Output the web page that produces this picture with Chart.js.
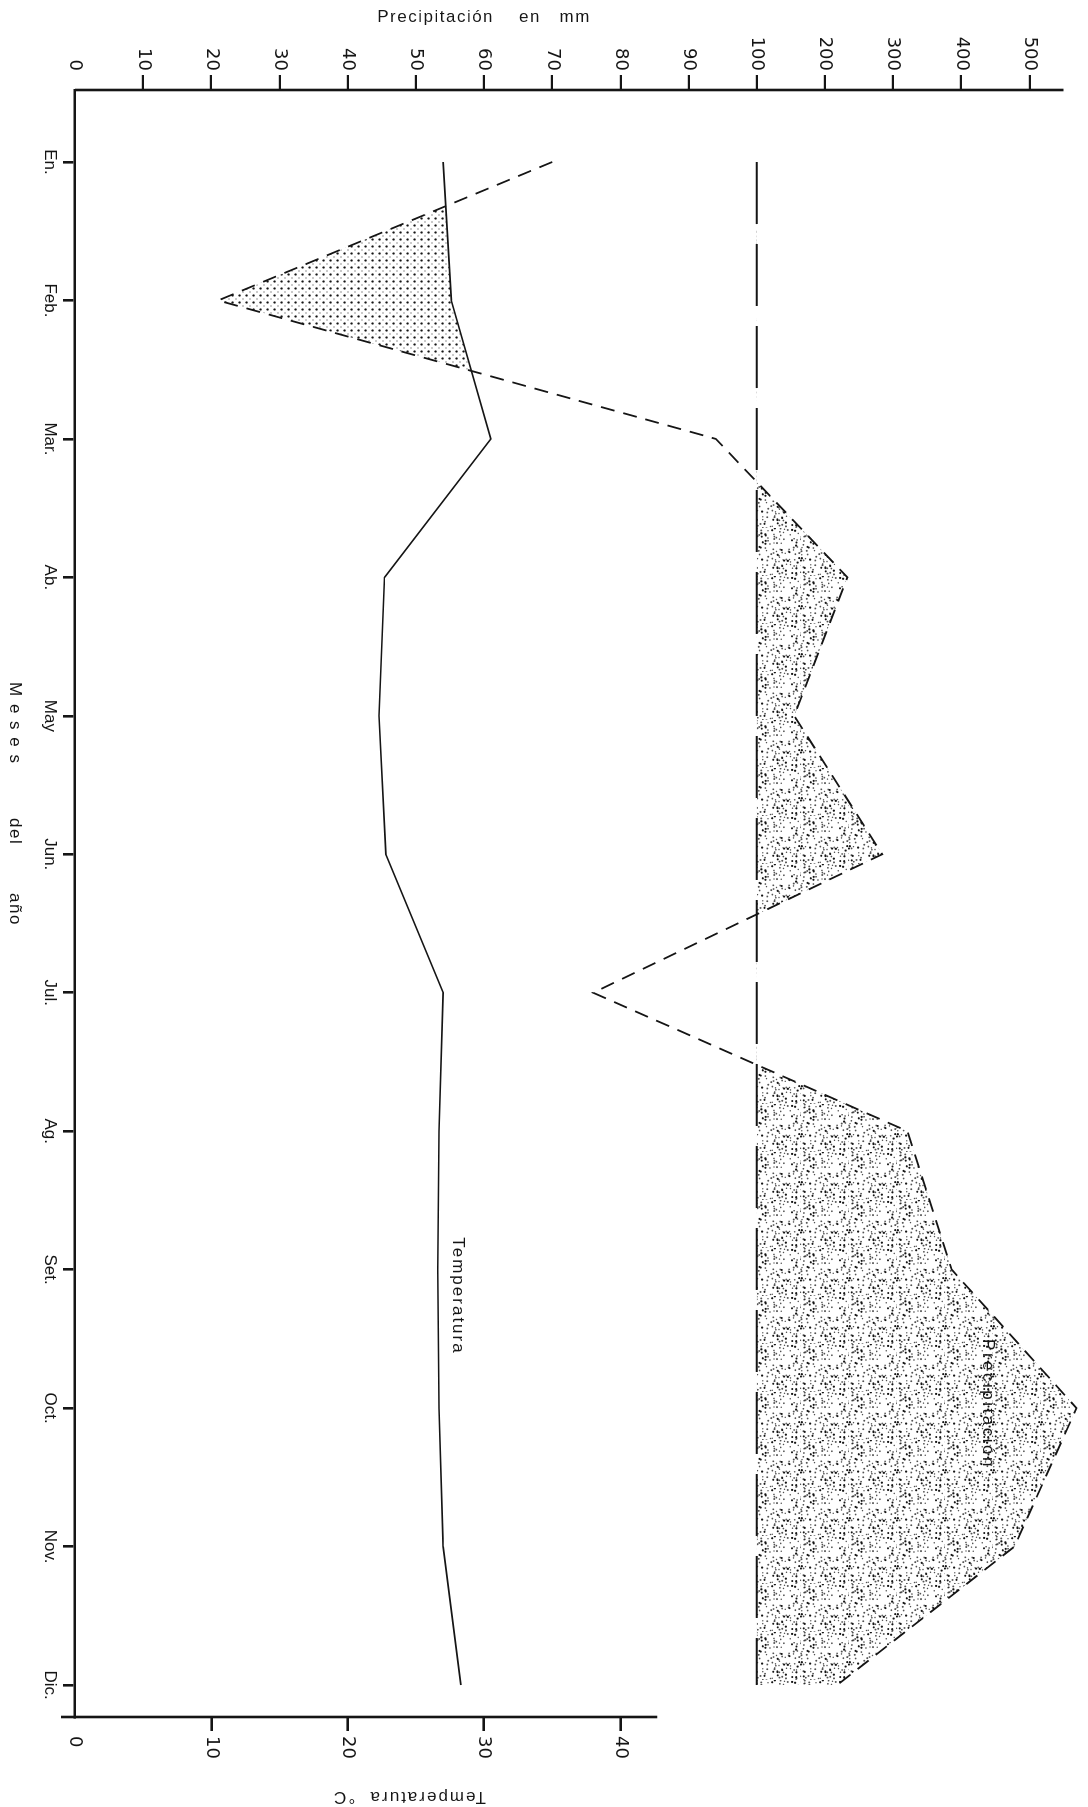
<!DOCTYPE html>
<html lang="es">
<head>
<meta charset="utf-8">
<title>Diagrama climático</title>
<script src="https://cdn.jsdelivr.net/npm/chart.js@4.4.1/dist/chart.umd.min.js"></script>
<style>
  html, body { margin: 0; padding: 0; background: #fff; overflow: hidden; }
  body { width: 1088px; height: 1807px; position: relative; }
  #marco {
    position: absolute; left: 0; top: 0;
    width: 1807px; height: 1088px;
    transform-origin: 0 0;
    transform: translateX(1088px) rotate(90deg);
  }
</style>
</head>
<body>
<div id="marco"><canvas id="grafico" width="1807" height="1088"></canvas></div>
<script>
const MESES = ['En.', 'Feb.', 'Mar.', 'Ab.', 'May', 'Jun.', 'Jul.', 'Ag.', 'Set.', 'Oct.', 'Nov.', 'Dic.'];
const TEMPERATURA = [27.0, 27.6, 30.5, 22.7, 22.3, 22.8, 27.0, 26.7, 26.6, 26.7, 27.0, 28.3];
const PRECIPITACION = [70, 21, 94, 233, 155, 284, 76, 321, 386, 569, 478, 218];
const TICKS_PRECIP = [0, 10, 20, 30, 40, 50, 60, 70, 80, 90, 100, 200, 300, 400, 500];
const TICKS_TEMP = [0, 10, 20, 30, 40];
const LIMITE_HUMEDO = 100;

const FUENTE = "'Liberation Sans', Arial, sans-serif";
const FUENTE_NUM = "'DejaVu Sans', Arial, sans-serif";
const NEGRO = '#151515';
const TRANSP = 'rgba(0,0,0,0)';

// por encima de 100 mm la escala se reduce a 1/10
function escala(p) {
    return p <= 100 ? p : 100 + (p - 100) / 10;
}

function hash(i, j) {
    let h = (i * 374761393 + j * 668265263) | 0;
    h = (h ^ (h >>> 13)) * 1274126177 | 0;
    return ((h ^ (h >>> 16)) >>> 0) / 4294967296;
}

function patronArido(ctx) {
    const c = document.createElement('canvas');
    c.width = 7; c.height = 7;
    const g = c.getContext('2d');
    g.fillStyle = NEGRO;
    g.beginPath(); g.arc(1.5, 1.5, 1.15, 0, Math.PI * 2); g.fill();
    g.fillStyle = 'rgba(20,20,20,0.55)';
    g.beginPath(); g.arc(5, 5, 0.75, 0, Math.PI * 2); g.fill();
    return ctx.createPattern(c, 'repeat');
}

function patronHumedo(ctx) {
    const n = 48, paso = 3.6;
    const c = document.createElement('canvas');
    c.width = n; c.height = n;
    const g = c.getContext('2d');
    for (let i = 0; i < n / paso; i++) {
        for (let j = 0; j < n / paso; j++) {
            const a = hash(i, j), b = hash(j + 31, i + 7), r = hash(i + 91, j + 53);
            if (r < 0.25) continue;
            const x = (i + a) * paso, y = (j + b) * paso;
            g.fillStyle = r > 0.8 ? NEGRO : 'rgba(25,25,25,0.75)';
            g.beginPath(); g.arc(x, y, 0.55 + r * 0.6, 0, Math.PI * 2); g.fill();
        }
    }
    return ctx.createPattern(c, 'repeat');
}

const decoracion = {
    id: 'decoracion',
    afterDraw(chart) {
        const { ctx, chartArea } = chart;
        const sx = chart.scales.x, sp = chart.scales.yP, st = chart.scales.yT;
        ctx.save();
        ctx.strokeStyle = NEGRO;
        ctx.fillStyle = NEGRO;
        ctx.lineWidth = 2.6;
        // eje de precipitacion
        ctx.beginPath();
        ctx.moveTo(chartArea.left, sp.getPixelForValue(0));
        ctx.lineTo(chartArea.left, sp.getPixelForValue(145));
        ctx.stroke();
        // eje de temperatura
        ctx.beginPath();
        ctx.moveTo(chartArea.right, st.getPixelForValue(0) + 14);
        ctx.lineTo(chartArea.right, st.getPixelForValue(42.7));
        ctx.stroke();

        ctx.textBaseline = 'middle';
        ctx.textAlign = 'center';
        ctx.font = '17px ' + FUENTE;

        ctx.save();
        ctx.letterSpacing = '1.5px';
        ctx.translate(17, sp.getPixelForValue(60));
        ctx.rotate(-Math.PI / 2);
        ctx.fillText('Precipitación    en   mm', 0, 0);
        ctx.restore();

        ctx.save();
        ctx.letterSpacing = '2px';
        ctx.translate(1797, st.getPixelForValue(24.5));
        ctx.rotate(Math.PI / 2);
        ctx.fillText('Temperatura  °C', 0, 0);
        ctx.restore();

        // titulo de meses, palabras separadas
        ctx.save();
        ctx.textAlign = 'left';
        ctx.letterSpacing = '1.5px';
        ctx.fillText('M e s e s', sx.getPixelForValue(3.756), 1073);
        ctx.fillText('del', sx.getPixelForValue(4.738), 1073);
        ctx.fillText('año', sx.getPixelForValue(5.28), 1073);
        ctx.restore();

        ctx.save();
        ctx.letterSpacing = '2px';
        ctx.fillText('Temperatura', sx.getPixelForValue(8.19), st.getPixelForValue(26.6) - 20);
        ctx.letterSpacing = '2.5px';
        ctx.fillText('Precipitación', sx.getPixelForValue(8.97), sp.getPixelForValue(133.9));
        ctx.restore();
        ctx.restore();
    }
};

function main() {
    const canvas = document.getElementById('grafico');
    const ctx = canvas.getContext('2d');
    const puntosP = PRECIPITACION.map((p, i) => ({ x: i, y: escala(p) }));

    new Chart(ctx, {
        type: 'line',
        data: {
            datasets: [
                {
                    label: '100 mm',
                    data: MESES.map((m, i) => ({ x: i, y: LIMITE_HUMEDO })),
                    yAxisID: 'yP',
                    borderColor: NEGRO,
                    borderWidth: 1.8,
                    borderDash: [62, 20],
                    pointRadius: 0,
                    fill: false
                },
                {
                    label: 'Temperatura',
                    data: TEMPERATURA.map((t, i) => ({ x: i, y: t })),
                    yAxisID: 'yT',
                    borderColor: NEGRO,
                    borderWidth: 1.6,
                    pointRadius: 0,
                    fill: false
                },
                {
                    label: 'Precipitación',
                    data: puntosP,
                    yAxisID: 'yP',
                    borderColor: NEGRO,
                    borderWidth: 1.8,
                    borderDash: [14, 9],
                    pointRadius: 0,
                    clip: false,
                    fill: { target: 1, above: TRANSP, below: patronArido(ctx) }
                },
                {
                    label: 'Húmedo',
                    data: puntosP,
                    yAxisID: 'yP',
                    borderColor: TRANSP,
                    borderWidth: 1,
                    pointRadius: 0,
                    fill: { value: LIMITE_HUMEDO, above: patronHumedo(ctx), below: TRANSP }
                }
            ]
        },
        options: {
            responsive: false,
            animation: false,
            devicePixelRatio: 1,
            layout: { autoPadding: false, padding: { top: 4, left: 0, right: 0, bottom: 0 } },
            plugins: {
                legend: { display: false },
                tooltip: { enabled: false }
            },
            scales: {
                x: {
                    type: 'linear',
                    position: 'bottom',
                    min: -0.52,
                    max: 11.231,
                    afterBuildTicks: (s) => { s.ticks = MESES.map((m, i) => ({ value: i })); },
                    afterFit: (s) => { s.height = 75; s.paddingLeft = 0; s.paddingRight = 0; },
                    ticks: {
                        callback: (v, i) => MESES[i],
                        autoSkip: false,
                        maxRotation: 0,
                        minRotation: 0,
                        padding: 3,
                        color: NEGRO,
                        font: { family: FUENTE, size: 17 }
                    },
                    grid: { drawOnChartArea: false, drawTicks: true, tickLength: 12, color: NEGRO, lineWidth: 2.6 },
                    border: { display: true, color: NEGRO, width: 2.6 }
                },
                yP: {
                    type: 'linear',
                    position: 'left',
                    min: 0,
                    max: 148,
                    afterBuildTicks: (s) => { s.ticks = TICKS_PRECIP.map(p => ({ value: escala(p) })); },
                    afterFit: (s) => { s.width = 90; s.paddingTop = 0; s.paddingBottom = 0; },
                    ticks: {
                        callback: (v, i) => String(TICKS_PRECIP[i]),
                        padding: 4,
                        color: NEGRO,
                        font: { family: FUENTE_NUM, size: 18 }
                    },
                    grid: {
                        drawOnChartArea: false, drawTicks: true, tickLength: 15, lineWidth: 2.2,
                        color: (c) => c.index === 0 ? TRANSP : NEGRO
                    },
                    border: { display: false }
                },
                yT: {
                    type: 'linear',
                    position: 'right',
                    min: 0,
                    max: 74,
                    afterBuildTicks: (s) => { s.ticks = TICKS_TEMP.map(t => ({ value: t })); },
                    afterFit: (s) => { s.width = 90; s.paddingTop = 0; s.paddingBottom = 0; },
                    ticks: {
                        callback: (v) => String(v),
                        padding: 5,
                        color: NEGRO,
                        font: { family: FUENTE_NUM, size: 18 }
                    },
                    grid: {
                        drawOnChartArea: false, drawTicks: true, tickLength: 14, lineWidth: 2.6,
                        color: (c) => c.index === 0 ? TRANSP : NEGRO
                    },
                    border: { display: false }
                }
            }
        },
        plugins: [decoracion]
    });
}

window.addEventListener('DOMContentLoaded', main);
</script>
</body>
</html>
